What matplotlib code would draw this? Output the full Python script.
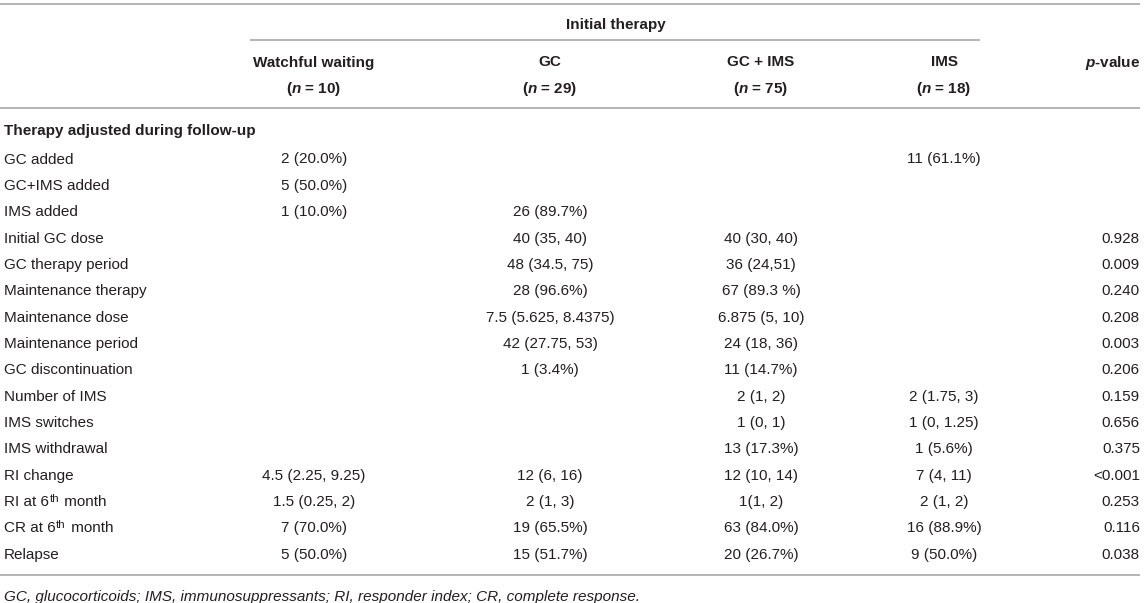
import matplotlib
matplotlib.use('Agg')
import matplotlib.pyplot as plt

# --- fonts ---
plt.rcParams['font.family'] = ['Liberation Sans', 'DejaVu Sans']
plt.rcParams['mathtext.fontset'] = 'custom'
plt.rcParams['mathtext.rm'] = 'Liberation Sans'
plt.rcParams['mathtext.it'] = 'Liberation Sans:italic'
plt.rcParams['mathtext.bf'] = 'Liberation Sans:bold'
try:
    plt.rcParams['mathtext.bfit'] = 'Liberation Sans:italic:bold'
except KeyError:
    pass

# --- table data ---
spanner = 'Initial therapy'
groups = ['Watchful waiting', 'GC', 'GC + IMS', 'IMS']
group_n = [10, 29, 75, 18]
section_title = 'Therapy adjusted during follow-up'

# "^" marks a superscript part: "RI at 6^th^ month"
row_labels = ['GC added', 'GC+IMS added', 'IMS added', 'Initial GC dose',
              'GC therapy period', 'Maintenance therapy', 'Maintenance dose',
              'Maintenance period', 'GC discontinuation', 'Number of IMS',
              'IMS switches', 'IMS withdrawal', 'RI change',
              'RI at 6^th^ month', 'CR at 6^th^ month', 'Relapse']
watchful = ['2 (20.0%)', '5 (50.0%)', '1 (10.0%)', '', '', '', '', '', '', '',
            '', '', '4.5 (2.25, 9.25)', '1.5 (0.25, 2)', '7 (70.0%)', '5 (50.0%)']
gc = ['', '', '26 (89.7%)', '40 (35, 40)', '48 (34.5, 75)', '28 (96.6%)',
      '7.5 (5.625, 8.4375)', '42 (27.75, 53)', '1 (3.4%)', '', '', '',
      '12 (6, 16)', '2 (1, 3)', '19 (65.5%)', '15 (51.7%)']
gc_ims = ['', '', '', '40 (30, 40)', '36 (24,51)', '67 (89.3 %)',
          '6.875 (5, 10)', '24 (18, 36)', '11 (14.7%)', '2 (1, 2)', '1 (0, 1)',
          '13 (17.3%)', '12 (10, 14)', '1(1, 2)', '63 (84.0%)', '20 (26.7%)']
ims = ['11 (61.1%)', '', '', '', '', '', '', '', '', '2 (1.75, 3)',
       '1 (0, 1.25)', '1 (5.6%)', '7 (4, 11)', '2 (1, 2)', '16 (88.9%)',
       '9 (50.0%)']
p_values = ['', '', '', '0.928', '0.009', '0.240', '0.208', '0.003', '0.206',
            '0.159', '0.656', '0.375', '<0.001', '0.253', '0.116', '0.038']
footnote = ('GC, glucocorticoids; IMS, immunosuppressants; '
            'RI, responder index; CR, complete response.')

# --- layout (pixels) ---
W, H = 1145, 603
text_color = '#231f20'
rule_color = '#b4b4b4'
fs = 11
col_x = [314, 550, 761, 944]
p_right = 1140
label_x = 3.5
first_row_y = 158
row_step = 26.35
base = 5.5   # centre -> baseline offset in px

fig = plt.figure(figsize=(W / 100, H / 100), dpi=100)
ax = fig.add_axes([0, 0, 1, 1])
ax.set_xlim(0, W)
ax.set_ylim(H, 0)
ax.axis('off')


def put(x, y, s, ha='center', **kw):
    return ax.text(x, y + base, s, ha=ha, va='baseline',
                   fontsize=kw.pop('size', fs), color=text_color, **kw)


def put_label(x, y, s):
    # plain label, or label with a superscript piece between "^" marks
    if '^' not in s:
        return put(x, y, s, ha='left')
    head, sup, tail = s.split('^')
    t1 = put(x, y, head, ha='left')
    t2 = ax.annotate(sup, xy=(1, 0), xycoords=t1, xytext=(0.6, 5.4),
                     textcoords='offset points', ha='left', va='baseline',
                     fontsize=fs * 0.75, color=text_color)
    ax.annotate(tail, xy=(1, 0), xycoords=(t2, t1), xytext=(0.8, 0),
                textcoords='offset points', ha='left', va='bottom',
                fontsize=fs, color=text_color)


# rules
for x0, x1, y in [(0, p_right, 4), (250, 980, 40), (0, p_right, 108), (0, p_right, 575)]:
    ax.plot([x0, x1], [y, y], color=rule_color, lw=1.4, solid_capstyle='butt')

# header
put(616, 23, spanner, fontweight='bold')
for x, g, n in zip(col_x, groups, group_n):
    put(x, 61, g, fontweight='bold')
    put(x, 88, r'($\mathbfit{n}$ = %d)' % n, fontweight='bold')
put(1113, 61, r'$\mathbfit{p}$-value', fontweight='bold')

# body
put(label_x, 129, section_title, ha='left', fontweight='bold')
for i, lab in enumerate(row_labels):
    y = first_row_y + i * row_step
    put_label(label_x, y, lab)
    for x, col in zip(col_x, [watchful, gc, gc_ims, ims]):
        if col[i]:
            put(x, y, col[i])
    if p_values[i]:
        put(p_right, y, p_values[i], ha='right')

put(label_x, 596, footnote, ha='left', fontstyle='italic')

fig.savefig('out.png', dpi=100)
